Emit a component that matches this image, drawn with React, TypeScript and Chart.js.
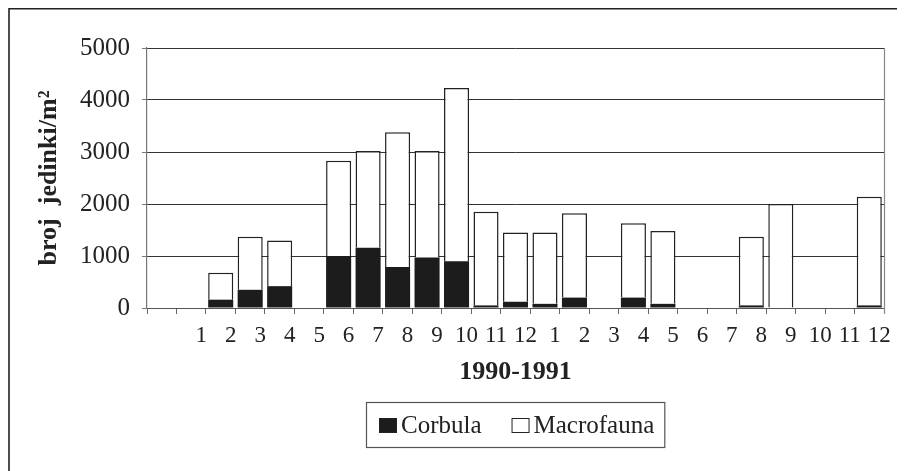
import React, { useEffect, useRef } from 'react';
import { Chart, registerables } from 'chart.js';

Chart.register(...registerables);

const FONT = "'Liberation Serif', 'Times New Roman', serif";

const categories = ['', '1', '2', '3', '4', '5', '6', '7', '8', '9', '10', '11', '12', '1', '2', '3', '4', '5', '6', '7', '8', '9', '10', '11', '12'];
const corbula = [null, null, 160, 350, 420, null, 1000, 1160, 790, 970, 900, 50, 120, 80, 200, null, 200, 80, null, null, 50, 0, null, null, 50];
const macrofauna = [null, null, 520, 1020, 880, null, 1830, 1860, 2590, 2050, 3330, 1800, 1330, 1370, 1620, null, 1430, 1400, null, null, 1320, 2000, null, null, 2090];
const yTicks = [0, 1000, 2000, 3000, 4000, 5000];
const seriesNames = ['Corbula', 'Macrofauna'];
const xTitle = '1990-1991';
const yTitle = 'broj  jedinki/m\u00B2';

const framePlugin = {
  id: 'frame',
  beforeDraw(chart: any) {
    const ctx = chart.ctx;
    ctx.save();
    ctx.fillStyle = '#fff';
    ctx.fillRect(0, 0, chart.width, chart.height);
    ctx.strokeStyle = '#222';
    ctx.lineWidth = 1.6;
    ctx.beginPath();
    ctx.moveTo(1, chart.height);
    ctx.lineTo(1, 0.8);
    ctx.lineTo(chart.width, 0.8);
    ctx.stroke();
    ctx.restore();
  },
  afterDraw(chart: any) {
    const ctx = chart.ctx;
    const ca = chart.chartArea;
    ctx.save();
    ctx.strokeStyle = '#888';
    ctx.lineWidth = 1.2;
    ctx.beginPath();
    ctx.moveTo(ca.right + 0.5, ca.top);
    ctx.lineTo(ca.right + 0.5, ca.bottom + 6);
    ctx.stroke();
    ctx.restore();
  },
};

const legendPlugin = {
  id: 'boxLegend',
  afterDraw(chart: any) {
    const ctx = chart.ctx;
    const ca = chart.chartArea;
    ctx.save();
    ctx.font = `25px ${FONT}`;
    const items = chart.data.datasets.map((ds: any) => ({
      label: ds.label,
      fill: ds.backgroundColor,
      w: ctx.measureText(ds.label).width,
    }));
    const sqW = 18, sqH = 15, gap = 4, itemGap = 30, padL = 13, padR = 10;
    let total = padL + padR;
    items.forEach((it: any, i: number) => {
      total += sqW + gap + it.w + (i > 0 ? itemGap : 0);
    });
    const left = Math.round((ca.left + ca.right) / 2 - total / 2);
    const top = 394;
    const h = 45;
    ctx.strokeStyle = '#555';
    ctx.lineWidth = 1.2;
    ctx.strokeRect(left + 0.5, top + 0.5, total, h);
    let x = left + padL;
    ctx.textBaseline = 'alphabetic';
    ctx.textAlign = 'left';
    items.forEach((it: any, i: number) => {
      if (i > 0) x += itemGap;
      ctx.fillStyle = it.fill;
      ctx.fillRect(x, top + 16, sqW, sqH);
      ctx.strokeStyle = '#222';
      ctx.lineWidth = 1;
      ctx.strokeRect(x + 0.5, top + 16.5, sqW - 1, sqH - 1);
      x += sqW + gap;
      ctx.fillStyle = '#222';
      ctx.fillText(it.label, x, top + 31);
      x += it.w;
    });
    ctx.restore();
  },
};

export default function App() {
  const ref = useRef<HTMLCanvasElement | null>(null);

  useEffect(() => {
    document.documentElement.style.overflow = 'hidden';
    document.body.style.overflow = 'hidden';
    if (!ref.current) return;
    const chart = new Chart(ref.current, {
      type: 'bar',
      data: {
        labels: categories,
        datasets: [
          {
            label: seriesNames[0],
            data: corbula,
            backgroundColor: '#1c1c1c',
            borderColor: '#1c1c1c',
            borderWidth: 0,
            categoryPercentage: 1,
            barPercentage: 0.85,
          },
          {
            label: seriesNames[1],
            data: macrofauna,
            backgroundColor: '#ffffff',
            borderColor: '#222',
            borderWidth: 1.5,
            categoryPercentage: 1,
            barPercentage: 0.85,
          },
        ],
      },
      options: {
        responsive: false,
        animation: false,
        layout: { padding: { left: 0, top: 40, right: 21, bottom: 83 } },
        plugins: {
          legend: { display: false },
          tooltip: { enabled: false },
          title: { display: false },
        },
        scales: {
          x: {
            type: 'category',
            stacked: true,
            offset: true,
            grid: {
              offset: true,
              drawOnChartArea: false,
              drawTicks: true,
              tickLength: 6,
              color: '#666',
              lineWidth: 1,
            },
            border: { display: true, color: '#555', width: 1 },
            ticks: {
              autoSkip: false,
              maxRotation: 0,
              minRotation: 0,
              labelOffset: 10,
              padding: 8,
              color: '#222',
              font: { family: FONT, size: 23 },
            },
            title: {
              display: true,
              text: xTitle,
              color: '#222',
              font: { family: FONT, size: 26, weight: 'bold', lineHeight: 1.2 },
              padding: { top: 0, bottom: 0 },
            },
            afterFit: (s: any) => {
              s.height = 80;
            },
          },
          y: {
            stacked: true,
            min: 0,
            max: 5000,
            afterBuildTicks: (s: any) => {
              s.ticks = yTicks.map((v) => ({ value: v }));
            },
            grid: {
              color: '#333',
              lineWidth: 1,
              drawTicks: true,
              tickLength: 5,
              tickColor: '#777',
            },
            border: { display: true, color: '#777', width: 1.2 },
            ticks: {
              padding: 12,
              color: '#222',
              font: { family: FONT, size: 25 },
              callback: (v: any) => String(v),
            },
            title: {
              display: true,
              text: yTitle,
              color: '#222',
              font: { family: FONT, size: 26, weight: 'bold', lineHeight: 1.2 },
              padding: { top: 26, bottom: 0 },
            },
            afterFit: (s: any) => {
              s.width = 139;
            },
          },
        },
      },
      plugins: [framePlugin, legendPlugin],
    } as any);
    return () => chart.destroy();
  }, []);

  return (
    <div style={{ width: 897, height: 463 }}>
      <canvas ref={ref} width={897} height={463} style={{ display: 'block', width: 897, height: 463 }} />
    </div>
  );
}
